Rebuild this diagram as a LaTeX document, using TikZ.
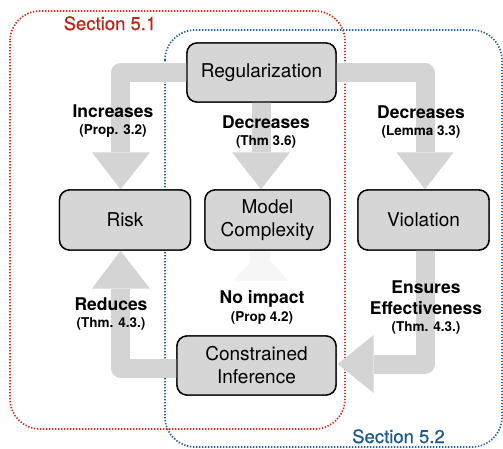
\documentclass[tikz,border=0pt]{standalone}
\usepackage{fontspec}
\setmainfont{TeX Gyre Heros}
\newfontfamily\medfont[FakeBold=0.6]{TeX Gyre Heros}
\usetikzlibrary{calc}
\definecolor{arrowgray}{HTML}{D4D4D4}
\definecolor{nodegray}{HTML}{D6D6D6}
\definecolor{faintgray}{HTML}{F6F6F6}
\definecolor{secred}{HTML}{BB2716}
\definecolor{secblue}{HTML}{1D5A8C}
\definecolor{linered}{HTML}{CF3323}
\definecolor{lineblue}{HTML}{24669E}
\begin{document}
\begin{tikzpicture}[x=1pt,y=-1pt,
  box/.style={draw=black, line width=1.4pt, fill=nodegray, rounded corners=10pt, inner sep=0pt, align=center, font=\fontsize{19}{23}\selectfont},
  shaft/.style={draw=arrowgray, line width=19pt, line join=round},
  faintshaft/.style={draw=faintgray, line width=20pt},
  head/.style={fill=arrowgray},
  fainthead/.style={fill=faintgray},
  lblmain/.style={anchor=base, font=\bfseries\fontsize{17.5}{20}\selectfont},
  lblsub/.style={anchor=base, font=\bfseries\fontsize{13.5}{16}\selectfont},
  secbox/.style={line width=1.7pt, dash pattern=on 1.4pt off 1.6pt, rounded corners=30pt},
  seclbl/.style={anchor=base, font=\medfont\fontsize{18.5}{22}\selectfont},
]
\useasboundingbox (0,0) rectangle (503,448);

% section frames
\draw[secbox, draw=linered] (10,11) rectangle (345,429);
\draw[secbox, draw=lineblue] (165,30) rectangle (502,447);
\node[seclbl, text=secred] (sec1) at (110,30) {Section 5.1};
\node[seclbl, text=secblue] (sec2) at (398.5,443) {Section 5.2};

% node placement (drawn later on top)
\path
  node[box, minimum width=149pt, minimum height=59pt] (reg) at (261.5,72.5) {Regularization}
  node[box, minimum width=131pt, minimum height=60pt] (risk) at (125,220) {Risk}
  node[box, minimum width=125pt, minimum height=60pt] (mc) at (267.5,220) {Model\\Complexity}
  node[box, minimum width=131pt, minimum height=60pt] (viol) at (423.5,220) {Violation}
  node[box, minimum width=159pt, minimum height=59pt] (ci) at (256.5,365.5) {Constrained\\Inference};

% faint arrow: CI -> Model Complexity
\draw[faintshaft] ($(mc.south)+(-7.5,30.5)$) -- ($(mc.south)+(-7.5,0)$ |- ci.center);
\fill[fainthead] ($(mc.south)+(-34.5,30.5)$) -- ($(mc.south)+(21.5,30.5)$) -- ($(mc.south)+(-7.5,0)$) -- cycle;

% Regularization -> Risk
\draw[shaft] (reg.center) -| ($(risk.north)+(-4.5,-37)$);
\fill[head] ($(risk.north)+(-33,-37)$) -- ($(risk.north)+(25,-37)$) -- ($(risk.north)+(-4.5,0)$) -- cycle;

% Regularization -> Violation
\draw[shaft] (reg.center) -| ($(viol.north)+(1.5,-37)$);
\fill[head] ($(viol.north)+(-27,-37)$) -- ($(viol.north)+(30,-37)$) -- ($(viol.north)+(1.5,0)$) -- cycle;

% Regularization -> Model Complexity
\coordinate (mctip) at ($(mc.north)+(-6.5,0)$);
\draw[shaft] (mctip |- reg.center) -- ($(mctip)+(0,-37)$);
\fill[head] ($(mctip)+(-29,-37)$) -- ($(mctip)+(29,-37)$) -- (mctip) -- cycle;

% Constrained Inference -> Risk
\draw[shaft] ($(ci.center)+(0,2.5)$) -| ($(risk.south)+(-4.5,38)$);
\fill[head] ($(risk.south)+(-33,38)$) -- ($(risk.south)+(25,38)$) -- ($(risk.south)+(-4.5,0)$) -- cycle;

% Violation -> Constrained Inference
\draw[shaft] ($(viol.center)+(1.5,0)$) |- ($(ci.east)+(37,-1.5)$);
\fill[head] ($(ci.east)+(37,-30.5)$) -- ($(ci.east)+(37,27.5)$) -- ($(ci.east)+(1,-1.5)$) -- cycle;

% nodes on top
\node[box, minimum width=149pt, minimum height=59pt] at (reg) {Regularization};
\node[box, minimum width=131pt, minimum height=60pt] at (risk) {Risk};
\node[box, minimum width=125pt, minimum height=60pt] at (mc) {Model\\Complexity};
\node[box, minimum width=131pt, minimum height=60pt] at (viol) {Violation};
\node[box, minimum width=159pt, minimum height=59pt] at (ci) {Constrained\\Inference};

% labels
\node[lblmain] (l1) at (113,117) {Increases};
\node[lblsub] (l1s) at (113,134) {(Prop. 3.2)};
\node[lblmain] (l2) at (266,128) {Decreases};
\node[lblsub] (l2s) at (266,145) {(Thm 3.6)};
\node[lblmain] (l3) at (421,118) {Decreases};
\node[lblsub] (l3s) at (421,135) {(Lemma 3.3)};
\node[lblmain] (l4) at (111,310) {Reduces};
\node[lblsub] (l4s) at (111,327) {(Thm. 4.3.)};
\node[lblmain] (l5) at (262,303) {No impact};
\node[lblsub] (l5s) at (262,321) {(Prop 4.2)};
\node[lblmain] (l6) at (426,293) {Ensures};
\node[lblmain] (l6b) at (426,314) {Effectiveness};
\node[lblsub] (l6s) at (426,331) {(Thm. 4.3.)};
\end{tikzpicture}
\end{document}
